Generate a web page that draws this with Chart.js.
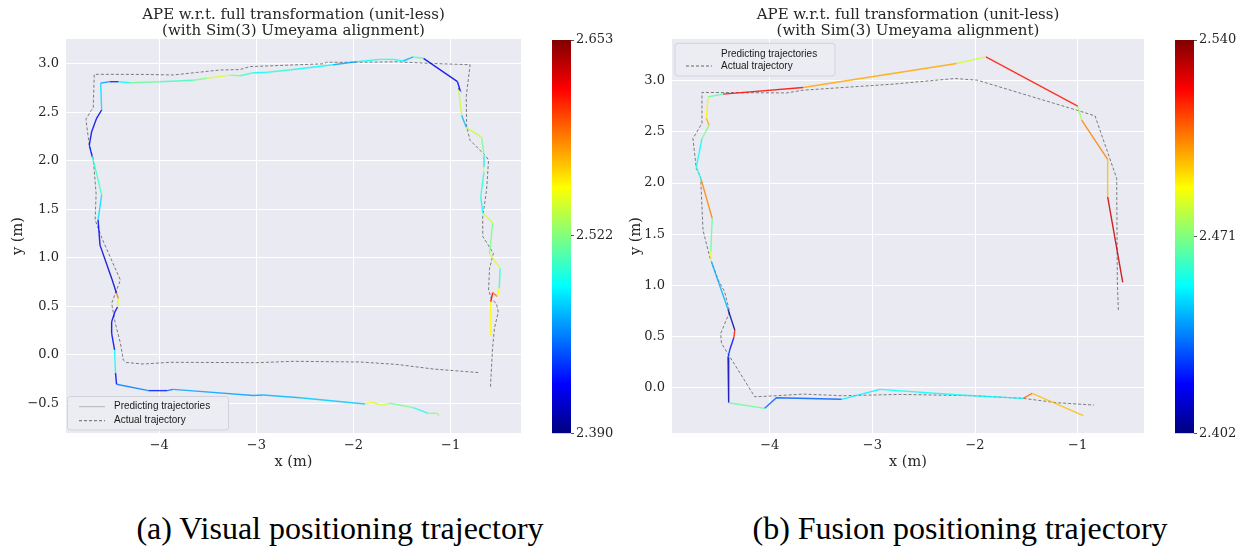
<!DOCTYPE html>
<html><head><meta charset="utf-8">
<script src="https://cdn.jsdelivr.net/npm/chart.js@4/dist/chart.umd.min.js"></script>
<style>
html,body{margin:0;padding:0;background:#fff;width:1249px;height:546px;overflow:hidden;position:relative}
canvas{position:absolute}
.cap{position:absolute;font-family:'Liberation Serif','Times New Roman',serif;font-size:32px;line-height:40px;color:#000;white-space:nowrap;text-align:center;width:600px;top:508px}
</style></head><body>
<canvas id="mainA" width="620" height="480" style="left:0px;top:0px"></canvas>
<canvas id="cbA" width="80" height="480" style="left:540px;top:0px"></canvas>
<canvas id="mainB" width="629" height="480" style="left:620px;top:0px"></canvas>
<canvas id="cbB" width="89" height="480" style="left:1160px;top:0px"></canvas>
<div class="cap" style="left:40px">(a) Visual positioning trajectory</div>
<div class="cap" style="left:660px">(b) Fusion positioning trajectory</div>
<script>
// ---------- data: (a) visual positioning ----------
const predAX = [-0.588,-0.588,-0.567,-0.52,-0.50,-0.49,-0.60,-0.567,-0.67,-0.69,-0.657,-0.66,-0.657,-0.68,-0.84,-0.887,-0.92,-0.904,-0.93,-1.28,-1.385,-1.49,-1.59,-1.73,-1.97,-2.21,-2.62,-2.91,-3.03,-3.17,-3.27,-3.51,-3.65,-3.99,-4.30,-4.42,-4.507,-4.603,-4.593,-4.645,-4.696,-4.72,-4.69,-4.645,-4.593,-4.63,-4.61,-4.484,-4.44,-4.42,-4.43,-4.456,-4.49,-4.49,-4.46,-4.45,-4.44,-4.11,-3.92,-3.856,-3.03,-2.93,-2.55,-1.88,-1.81,-1.71,-1.625,-1.385,-1.23,-1.144,-1.12];
const predAY = [0.193,0.546,0.64,0.60,0.685,0.89,1.04,1.36,1.46,1.63,1.887,1.94,2.05,2.24,2.344,2.47,2.746,2.73,2.815,3.056,3.07,3.028,3.045,3.045,3.02,2.99,2.94,2.91,2.907,2.876,2.883,2.85,2.83,2.815,2.804,2.815,2.815,2.80,2.523,2.437,2.30,2.16,2.04,1.87,1.646,1.39,1.13,0.77,0.633,0.58,0.49,0.443,0.34,0.22,0.05,-0.19,-0.305,-0.37,-0.37,-0.357,-0.42,-0.415,-0.443,-0.508,-0.49,-0.52,-0.50,-0.546,-0.604,-0.604,-0.63];
const predAErr = [2.555,2.62,2.59,2.555,2.50,2.545,2.52,2.54,2.49,2.50,2.555,2.485,2.52,2.54,2.47,2.54,2.42,2.42,2.415,2.51,2.47,2.49,2.50,2.49,2.465,2.49,2.50,2.49,2.505,2.52,2.545,2.52,2.505,2.515,2.49,2.43,2.46,2.48,2.42,2.42,2.415,2.43,2.50,2.505,2.48,2.42,2.41,2.41,2.59,2.545,2.42,2.42,2.415,2.42,2.49,2.42,2.455,2.43,2.45,2.465,2.465,2.47,2.475,2.555,2.545,2.54,2.52,2.495,2.525,2.53,2.53];
const actAX = [-0.59,-0.57,-0.55,-0.51,-0.53,-0.578,-0.61,-0.60,-0.56,-0.67,-0.67,-0.63,-0.61,-0.64,-0.80,-0.835,-0.84,-0.80,-1.25,-1.55,-1.93,-2.28,-2.30,-3.07,-3.17,-3.375,-3.615,-3.856,-4.165,-4.669,-4.68,-4.70,-4.755,-4.72,-4.68,-4.65,-4.66,-4.59,-4.40,-4.49,-4.456,-4.40,-4.37,-4.34,-4.165,-3.89,-3.0,-2.62,-1.93,-1.556,-1.18,-0.70];
const actAY = [-0.33,0.05,0.27,0.44,0.53,0.571,0.667,0.89,1.045,1.22,1.42,1.70,2.007,2.05,2.21,2.35,2.66,2.99,3.005,3.02,3.015,3.015,3.0,2.97,2.94,2.935,2.91,2.884,2.89,2.891,2.54,2.52,2.427,2.16,2.025,1.66,1.39,1.2,0.77,0.53,0.34,0.12,-0.055,-0.08,-0.096,-0.078,-0.082,-0.068,-0.075,-0.10,-0.147,-0.185];
const xTicksA = [-4,-3,-2,-1];
const yTicksA = [-0.5,0,0.5,1,1.5,2,2.5,3];
const cbTicksA = [2.390,2.522,2.653];

// ---------- data: (b) fusion positioning ----------
const predBX = [-0.561,-0.708,-0.708,-0.961,-1.0,-1.894,-2.18,-3.675,-4.455,-4.60,-4.617,-4.59,-4.66,-4.715,-4.666,-4.56,-4.575,-4.568,-4.406,-4.34,-4.35,-4.39,-4.406,-4.40,-4.049,-3.935,-3.30,-2.928,-2.148,-1.53,-1.443,-0.945];
const predBY = [1.03,1.865,2.23,2.614,2.751,3.232,3.168,2.933,2.868,2.842,2.63,2.565,2.435,2.158,2.028,1.654,1.33,1.23,0.765,0.563,0.49,0.368,0.297,-0.146,-0.201,-0.098,-0.113,-0.016,-0.071,-0.104,-0.055,-0.273];
const predBErr = [2.530,2.497,2.505,2.475,2.520,2.482,2.500,2.522,2.465,2.490,2.500,2.470,2.455,2.458,2.505,2.468,2.488,2.443,2.406,2.52,2.42,2.425,2.41,2.468,2.432,2.432,2.452,2.455,2.453,2.508,2.497,2.497];
const actBX = [-0.604,-0.614,-0.62,-0.831,-1.01,-1.98,-2.196,-2.80,-3.675,-3.837,-4.66,-4.66,-4.68,-4.748,-4.715,-4.673,-4.65,-4.585,-4.50,-4.44,-4.39,-4.478,-4.47,-4.146,-3.935,-3.675,-3.285,-2.733,-2.018,-1.53,-1.205,-0.841];
const actBY = [0.759,1.05,2.045,2.656,2.712,3.005,3.021,2.966,2.907,2.88,2.885,2.58,2.55,2.435,2.14,2.06,1.54,1.28,1.05,0.94,0.742,0.53,0.434,-0.088,-0.078,-0.062,-0.078,-0.065,-0.078,-0.104,-0.146,-0.169];
const xTicksB = [-4,-3,-2,-1];
const yTicksB = [0,0.5,1,1.5,2,2.5,3];
const cbTicksB = [2.402,2.471,2.540];

const titleLines = ['APE w.r.t. full transformation (unit-less)','(with Sim(3) Umeyama alignment)'];
const seriesNames = ['Predicting trajectories','Actual trajectory'];

// ---------- helpers ----------
function jet(t, a){
  t = Math.max(0, Math.min(1, t));
  const f = v => Math.round(255*Math.max(0, Math.min(1, v)));
  return 'rgba(' + f(1.5-Math.abs(4*t-3)) + ',' + f(1.5-Math.abs(4*t-2)) + ',' + f(1.5-Math.abs(4*t-1)) + ',' + a + ')';
}
const minus = '\u2212';
const fmtInt = v => v < 0 ? minus + Math.abs(v) : String(v);
const fmt1 = v => v < 0 ? minus + Math.abs(v).toFixed(1) : v.toFixed(1);
const TXT = '#262626';
const SERIF = "'DejaVu Serif', serif";

const plotBg = {
  id: 'plotBg',
  beforeDraw(chart){
    const {ctx, chartArea: a} = chart;
    ctx.save(); ctx.fillStyle = '#eaeaf2';
    ctx.fillRect(a.left, a.top, a.right - a.left, a.bottom - a.top);
    ctx.restore();
  }
};
const boxLegend = {
  id: 'boxLegend',
  afterDraw(chart, args, o){
    const ctx = chart.ctx;
    ctx.save();
    const r = 3, x = o.x, y = o.y, w = o.w, h = o.h;
    ctx.beginPath();
    ctx.moveTo(x + r, y); ctx.lineTo(x + w - r, y); ctx.quadraticCurveTo(x + w, y, x + w, y + r);
    ctx.lineTo(x + w, y + h - r); ctx.quadraticCurveTo(x + w, y + h, x + w - r, y + h);
    ctx.lineTo(x + r, y + h); ctx.quadraticCurveTo(x, y + h, x, y + h - r);
    ctx.lineTo(x, y + r); ctx.quadraticCurveTo(x, y, x + r, y); ctx.closePath();
    ctx.fillStyle = 'rgba(236,236,243,0.85)'; ctx.fill();
    ctx.strokeStyle = '#d2d2da'; ctx.lineWidth = 1; ctx.stroke();
    o.items.forEach((it, i) => {
      if (it.color) {
        ctx.beginPath(); ctx.setLineDash(it.dash || []);
        ctx.strokeStyle = it.color; ctx.lineWidth = 1;
        ctx.moveTo(o.lx0, it.y); ctx.lineTo(o.lx1, it.y); ctx.stroke();
      }
      ctx.setLineDash([]);
      ctx.fillStyle = '#1a1a1a'; ctx.font = "10px 'Liberation Sans', Arial, sans-serif";
      ctx.textBaseline = 'middle'; ctx.textAlign = 'left';
      ctx.fillText(chart.data.datasets[i].label, o.tx, it.y);
    });
    ctx.restore();
  }
};

function makeMain(id, o){
  const pred = o.px.map((x, i) => ({x: x, y: o.py[i]}));
  const act = o.ax.map((x, i) => ({x: x, y: o.ay[i]}));
  return new Chart(document.getElementById(id), {
    type: 'scatter',
    data: { datasets: [
      { label: seriesNames[0], data: pred, showLine: true, pointRadius: 0, borderWidth: 1.4, borderColor: '#999',
        segment: { borderColor: c => jet((o.err[c.p0DataIndex] - o.lo)/(o.hi - o.lo), 0.85) } },
      { label: seriesNames[1], data: act, showLine: true, pointRadius: 0, borderWidth: 1,
        borderColor: 'rgba(95,95,95,0.8)', borderDash: [3,2] }
    ]},
    options: {
      responsive: false, animation: false, events: [],
      layout: { padding: { left: 0, right: o.padRight, top: 0, bottom: 0 } },
      scales: {
        x: { type: 'linear', min: o.xmin, max: o.xmax,
             afterBuildTicks: s => { s.ticks = o.xt.map(v => ({value: v})); },
             afterFit: s => { s.height = 47; },
             grid: { color: '#ffffff', lineWidth: 1, drawTicks: false },
             border: { display: false },
             ticks: { padding: 5, color: TXT, font: { family: SERIF, size: 13 }, callback: v => fmtInt(v), maxRotation: 0 },
             title: { display: true, text: 'x (m)', color: TXT, font: { family: SERIF, size: 14.5 }, padding: { top: 0, bottom: 9.3 } } },
        y: { type: 'linear', min: o.ymin, max: o.ymax,
             afterBuildTicks: s => { s.ticks = o.yt.map(v => ({value: v})); },
             afterFit: s => { s.width = o.yw; },
             grid: { color: '#ffffff', lineWidth: 1, drawTicks: false },
             border: { display: false },
             ticks: { padding: 7, color: TXT, font: { family: SERIF, size: 13 }, callback: v => fmt1(v) },
             title: { display: true, text: 'y (m)', color: TXT, font: { family: SERIF, size: 14.5 }, padding: { top: o.ytp, bottom: 0 } } }
      },
      plugins: {
        legend: { display: false }, tooltip: { enabled: false },
        title: { display: true, fullSize: false, text: titleLines, color: TXT,
                 font: { family: SERIF, size: 15, weight: 'normal', lineHeight: '16px' }, padding: { top: 7, bottom: 0 } },
        boxLegend: o.legend
      }
    },
    plugins: [plotBg, boxLegend]
  });
}

function makeCB(id, lo, hi, ticks, padLeft, axisW){
  return new Chart(document.getElementById(id), {
    type: 'bar',
    data: { labels: [''], datasets: [{ data: [[lo, hi]], borderWidth: 0, barPercentage: 1, categoryPercentage: 1,
      backgroundColor: c => {
        const ca = c.chart.chartArea; if (!ca) return '#888';
        const g = c.chart.ctx.createLinearGradient(0, ca.bottom, 0, ca.top);
        for (let i = 0; i <= 32; i++) g.addColorStop(i/32, jet(i/32, 1));
        return g;
      } }] },
    options: {
      responsive: false, animation: false, events: [],
      layout: { padding: { left: padLeft, right: 0, top: 40, bottom: 46.7 } },
      scales: {
        x: { display: false },
        y: { position: 'right', min: lo, max: hi,
             afterBuildTicks: s => { s.ticks = ticks.map(v => ({value: v})); },
             afterFit: s => { s.width = axisW; },
             grid: { drawOnChartArea: false, drawTicks: true, tickLength: 3, color: '#555' },
             border: { display: false },
             ticks: { padding: 2, color: TXT, font: { family: SERIF, size: 13 }, callback: v => v.toFixed(3) } }
      },
      plugins: { legend: { display: false }, tooltip: { enabled: false } }
    }
  });
}

makeMain('mainA', { px: predAX, py: predAY, err: predAErr, ax: actAX, ay: actAY, lo: cbTicksA[0], hi: cbTicksA[2],
  xmin: -4.96, xmax: -0.276, ymin: -0.807, ymax: 3.255, xt: xTicksA, yt: yTicksA, padRight: 99, yw: 66, ytp: 9.3,
  legend: { x: 67.5, y: 396.5, w: 161, h: 33.5, lx0: 79, lx1: 105, tx: 114,
            items: [ { y: 406.7, color: '#b4b4b4' }, { y: 420.7, color: '#666', dash: [3,2] } ] } });
makeMain('mainB', { px: predBX, py: predBY, err: predBErr, ax: actBX, ay: actBY, lo: cbTicksB[0], hi: cbTicksB[2],
  xmin: -4.952, xmax: -0.354, ymin: -0.442, ymax: 3.407, xt: xTicksB, yt: yTicksB, padRight: 105, yw: 52, ytp: 7.3,
  legend: { x: 55, y: 43.3, w: 160, h: 32.7, lx0: 66, lx1: 92, tx: 101,
            items: [ { y: 54, color: null }, { y: 66, color: '#666', dash: [3,2] } ] } });
makeCB('cbA', cbTicksA[0], cbTicksA[2], cbTicksA, 12, 49);
makeCB('cbB', cbTicksB[0], cbTicksB[2], cbTicksB, 15, 55);
</script>
</body></html>
